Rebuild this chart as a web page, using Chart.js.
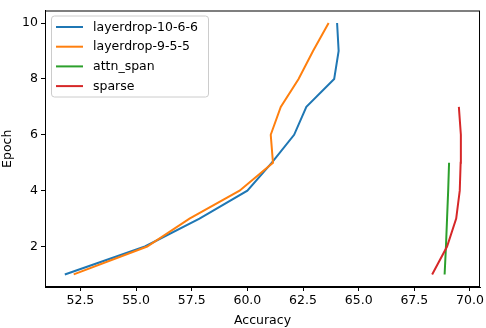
<!DOCTYPE html>
<html lang="en">
  <head>
    <meta charset="UTF-8" />
    <title>Accuracy vs Epoch</title>
    <style>
      html, body { margin: 0; padding: 0; background: #fff; }
      #wrap { width: 486px; height: 328px; }
    </style>
  </head>
  <body>
    <div id="wrap">
      <canvas id="myChart" width="486" height="328"></canvas>
    </div>
    <script src="https://cdn.jsdelivr.net/npm/chart.js"></script>
    <script>
        const labels = ["layerdrop-10-6-6", "layerdrop-9-5-5", "attn_span", "sparse"];
        const colors = ["#1f77b4", "#ff7f0e", "#2ca02c", "#d62728"];

        const epochs = [1, 2, 3, 4, 5, 6, 7, 8, 9, 10];
        const layerdrop1066 = [51.8, 55.4, 57.85, 60.0, 61.1, 62.1, 62.65, 63.9, 64.1, 64.03];
        const layerdrop955 = [52.2, 55.5, 57.4, 59.65, 61.15, 61.05, 61.5, 62.3, 62.95, 63.65];
        const attnSpan = [68.86, 68.92, 68.97, 69.02, 69.06];
        const sparse = [68.3, 68.97, 69.38, 69.54, 69.58, 69.59, 69.5];

        const xTicks = [52.5, 55.0, 57.5, 60.0, 62.5, 65.0, 67.5, 70.0];
        const yTicks = [2, 4, 6, 8, 10];

        const series = [layerdrop1066, layerdrop955, attnSpan, sparse];
        const font = { family: "DejaVu Sans", size: 12.5 };

        const frame = {
            id: 'frame',
            afterDraw(chart) {
                const {ctx, chartArea: {left, top, right, bottom}} = chart;
                ctx.save();
                ctx.strokeStyle = '#000';
                ctx.lineWidth = 1;
                ctx.strokeRect(left + 0.5, top + 0.5, right - left - 1, bottom - top - 1);

                // legend box, upper left
                const bx = left + 6, by = top + 5, bw = 157, bh = 81;
                ctx.beginPath();
                ctx.roundRect(bx + 0.5, by + 0.5, bw, bh, 3);
                ctx.fillStyle = 'rgba(255,255,255,0.8)';
                ctx.fill();
                ctx.strokeStyle = '#cccccc';
                ctx.stroke();
                ctx.font = '12.5px "DejaVu Sans"';
                ctx.textBaseline = 'middle';
                chart.data.datasets.forEach((ds, i) => {
                    const y = by + 11.5 + i * 19.7;
                    ctx.strokeStyle = ds.borderColor;
                    ctx.lineWidth = 2;
                    ctx.beginPath();
                    ctx.moveTo(bx + 5, y);
                    ctx.lineTo(bx + 32, y);
                    ctx.stroke();
                    ctx.fillStyle = '#000';
                    ctx.fillText(ds.label, bx + 42, y + 0.5);
                });
                ctx.restore();
            }
        };

        const data = {
            datasets: series.map((vals, i) => ({
                label: labels[i],
                data: vals.map((v, j) => ({ x: v, y: epochs[j] })),
                borderColor: colors[i],
                backgroundColor: colors[i],
                borderWidth: 2,
                showLine: true,
                pointRadius: 0,
                order: 4 - i,
            })),
        };

        const config = {
            type: "scatter",
            data: data,
            plugins: [frame],
            options: {
                responsive: false,
                animation: false,
                layout: { padding: { top: 3, right: 4, left: 0, bottom: 0 } },
                plugins: {
                    legend: { display: false },
                    tooltip: { enabled: false }
                },
                scales: {
                    x: {
                        min: 50.91,
                        max: 70.45,
                        afterBuildTicks: (s) => { s.ticks = xTicks.map(v => ({ value: v })); },
                        afterFit: (s) => { s.height = 41; },
                        grid: { display: true, drawOnChartArea: false, drawTicks: true, tickLength: 4, color: '#000' },
                        border: { display: true, color: '#000' },
                        ticks: {
                            color: '#000',
                            font: font,
                            padding: 2,
                            maxRotation: 0,
                            autoSkip: false,
                            callback: (v) => Number(v).toFixed(1)
                        },
                        title: { display: true, text: "Accuracy", color: '#000', font: font, padding: { top: 0, bottom: 0 } }
                    },
                    y: {
                        min: 0.55,
                        max: 10.45,
                        afterBuildTicks: (s) => { s.ticks = yTicks.map(v => ({ value: v })); },
                        afterFit: (s) => { s.width = 45; },
                        grid: { display: true, drawOnChartArea: false, drawTicks: true, tickLength: 4, color: '#000' },
                        border: { display: true, color: '#000' },
                        ticks: { color: '#000', font: font, padding: 3, autoSkip: false },
                        title: { display: true, text: "Epoch", color: '#000', font: font, padding: { top: 0, bottom: 1 } }
                    }
                }
            }
        };

        const myChart = new Chart(document.getElementById("myChart"), config);
    </script>
  </body>
</html>
